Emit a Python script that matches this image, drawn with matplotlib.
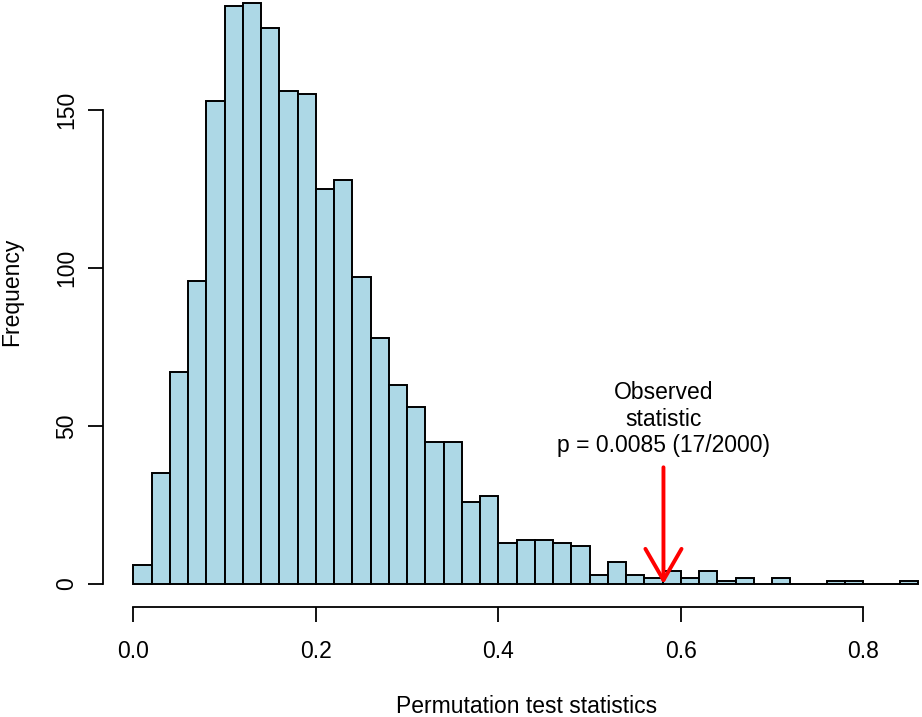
import numpy as np
import matplotlib
matplotlib.use("Agg")
import matplotlib.pyplot as plt

plt.rcParams['font.family'] = ['Liberation Sans', 'DejaVu Sans']

# Histogram data (bin width 0.02 starting at 0.0)
bin_width = 0.02
bin_start = 0.0
counts = [6, 35, 67, 96, 153, 183, 184, 176, 156, 155,
          125, 128, 97, 78, 63, 56, 45, 45, 26, 28,
          13, 14, 14, 13, 12, 3, 7, 3, 2, 4,
          2, 4, 1, 2, 0, 2, 0, 0, 1, 1,
          0, 0, 1]
observed = 0.581
annot_text = "Observed\nstatistic\np = 0.0085 (17/2000)"
x_ticks = [0.0, 0.2, 0.4, 0.6, 0.8]
x_tick_labels = ["0.0", "0.2", "0.4", "0.6", "0.8"]
y_ticks = [0, 50, 100, 150]
y_tick_labels = ["0", "50", "100", "150"]
x_label = "Permutation test statistics"
y_label = "Frequency"

W, H = 922, 717
fig = plt.figure(figsize=(W / 100, H / 100), dpi=100)
ax = fig.add_axes([0, 0, 1, 1])
ax.patch.set_alpha(0)

# pixel mapping (x0 px, px per unit), (y0 px, px per unit)
x0_px, xs = 133.3, 912.5
y0_px, ys = 584.0, 3.16
ax.set_xlim(-x0_px / xs, (W - x0_px) / xs)
ax.set_ylim((y0_px - H) / ys, y0_px / ys)

left_edges = bin_start + bin_width * np.arange(len(counts))
ax.bar(left_edges, counts, width=bin_width, align='edge',
       color='#ADD8E6', edgecolor='black', linewidth=1.4)

# axes styled like R base graphics
for s in ['top', 'right']:
    ax.spines[s].set_visible(False)
ax.spines['left'].set_position(('data', (103.0 - x0_px) / xs))
ax.spines['left'].set_bounds(0, 150)
ax.spines['bottom'].set_position(('data', (y0_px - 606.7) / ys))
ax.spines['bottom'].set_bounds(0, 0.8)
for s in ['left', 'bottom']:
    ax.spines[s].set_linewidth(1.3)

ax.set_xticks(x_ticks)
ax.set_xticklabels(x_tick_labels)
ax.set_yticks(y_ticks)
ax.set_yticklabels(y_tick_labels, rotation=90, va='center')
ax.tick_params(axis='both', direction='out', length=11, width=1.3,
               labelsize=16.5)
ax.tick_params(axis='x', pad=13)
ax.tick_params(axis='y', pad=7)

# arrow and annotation
ax.annotate('', xy=(observed, 0), xytext=(observed, (y0_px - 467.3) / ys),
            arrowprops=dict(arrowstyle='->,head_length=22.5,head_width=13',
                            mutation_scale=1, color='#FF0000', lw=2.8,
                            shrinkA=0, shrinkB=0))
ax.text(observed, (y0_px - 419.0) / ys, annot_text, ha='center', va='center',
        fontsize=16.5, linespacing=1.22)

fig.text(527 / W, (H - 713) / H, x_label, ha='center', va='baseline',
         fontsize=16.5)
fig.text(12 / W, (H - 292) / H, y_label, ha='center', va='center',
         rotation=90, fontsize=16.5)

fig.savefig('out.png', dpi=100)
